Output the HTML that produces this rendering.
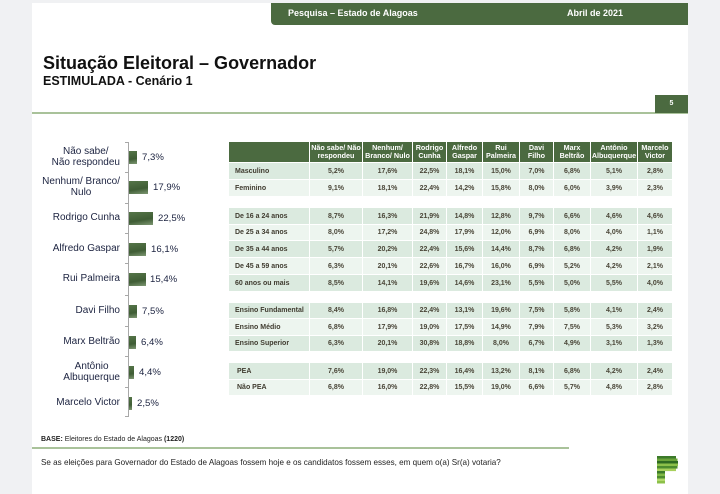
<!DOCTYPE html>
<html>
<head>
<meta charset="utf-8">
<style>
*{margin:0;padding:0;box-sizing:border-box;}
html,body{width:720px;height:494px;overflow:hidden;background:#f0f1f3;font-family:"Liberation Sans",Arial,sans-serif;}
#page{position:absolute;left:32px;top:3px;width:656px;height:491px;background:#fff;}
.abs{position:absolute;}
#hdr{left:271px;top:3px;width:417px;height:22px;background:#4b6a40;border-bottom-left-radius:4px;color:#fff;font-weight:bold;font-size:9px;}
#hdr span{position:absolute;top:5px;white-space:nowrap;}
#title{left:43px;top:53px;font-size:18px;font-weight:bold;color:#111;white-space:nowrap;line-height:20px;}
#sub{left:43px;top:74px;font-size:12.5px;font-weight:bold;color:#111;white-space:nowrap;line-height:14px;}
#gline{left:32px;top:112px;width:656px;height:2px;background:#a9c29a;}
#pg{left:655px;top:95px;width:33px;height:18px;background:#4b6a40;color:#fff;font-size:7px;font-weight:bold;text-align:center;line-height:18px;}
.lbl{position:absolute;right:600px;font-size:10px;color:#1c2340;line-height:11px;text-align:center;white-space:nowrap;}
.bar{position:absolute;left:129px;height:13px;background:linear-gradient(170deg,#557548 0%,#3f5d35 60%,#7e9873 100%);}
.val{position:absolute;font-size:9.6px;color:#1c2340;line-height:11px;white-space:nowrap;}
#axis{left:128px;top:142px;width:1px;height:275px;background:#a8a8a8;}
.tk{position:absolute;left:125px;width:3px;height:1px;background:#a8a8a8;}
.row{position:absolute;left:229px;width:443px;display:flex;border-bottom:1px solid #fff;}
.row span{display:flex;align-items:center;justify-content:center;border-right:1.5px solid #fff;font-size:7px;font-weight:bold;color:#4a4638;white-space:nowrap;height:100%;}
.row span:first-child{justify-content:flex-start;padding-left:6px;color:#403c30;}
.row span:last-child{border-right:none;}
.d{background:#dbeadf;}
.l{background:#edf5ef;}
.h{background:#4b6a40;}
.h span{color:#fff !important;font-weight:bold;font-size:7.2px;line-height:8.5px;text-align:center;}
.c1{width:81px}.c2{width:53px}.c3{width:50px}.c4{width:34px}.c5{width:36px}.c6{width:37px}.c7{width:34px}.c8{width:37px}.c9{width:47px}.c10{width:34px}
#base{left:41px;top:436px;font-size:7px;color:#222;white-space:nowrap;}
#bline{left:32px;top:447px;width:537px;height:2px;background:#a9c29a;}
#q{left:41px;top:458px;font-size:8.1px;color:#222;white-space:nowrap;}
</style>
</head>
<body>
<div id="page"></div>
<div id="hdr" class="abs"><span style="left:17px">Pesquisa – Estado de Alagoas</span><span style="left:296px">Abril de 2021</span></div>
<div id="title" class="abs">Situação Eleitoral – Governador</div>
<div id="sub" class="abs">ESTIMULADA - Cenário 1</div>
<div id="gline" class="abs"></div>
<div id="pg" class="abs">5</div>

<!-- Chart -->
<div id="axis" class="abs"></div>
<div class="tk" style="top:142px"></div>
<div class="tk" style="top:172px"></div>
<div class="tk" style="top:203px"></div>
<div class="tk" style="top:233px"></div>
<div class="tk" style="top:263px"></div>
<div class="tk" style="top:295px"></div>
<div class="tk" style="top:326px"></div>
<div class="tk" style="top:356px"></div>
<div class="tk" style="top:387px"></div>
<div class="tk" style="top:416px"></div>

<div class="lbl" style="top:146px">Não sabe/<br>Não respondeu</div>
<div class="bar" style="top:151px;width:7.8px"></div>
<div class="val" style="left:142px;top:152px">7,3%</div>

<div class="lbl" style="top:176px">Nenhum/ Branco/<br>Nulo</div>
<div class="bar" style="top:181px;width:19.2px"></div>
<div class="val" style="left:153px;top:182px">17,9%</div>

<div class="lbl" style="top:212px">Rodrigo Cunha</div>
<div class="bar" style="top:212px;width:24px"></div>
<div class="val" style="left:158px;top:213px">22,5%</div>

<div class="lbl" style="top:243px">Alfredo Gaspar</div>
<div class="bar" style="top:243px;width:17.2px"></div>
<div class="val" style="left:151px;top:244px">16,1%</div>

<div class="lbl" style="top:273px">Rui Palmeira</div>
<div class="bar" style="top:273px;width:16.5px"></div>
<div class="val" style="left:150px;top:274px">15,4%</div>

<div class="lbl" style="top:305px">Davi Filho</div>
<div class="bar" style="top:305px;width:8px"></div>
<div class="val" style="left:142px;top:306px">7,5%</div>

<div class="lbl" style="top:336px">Marx Beltrão</div>
<div class="bar" style="top:336px;width:6.8px"></div>
<div class="val" style="left:141px;top:337px">6,4%</div>

<div class="lbl" style="top:361px">Antônio<br>Albuquerque</div>
<div class="bar" style="top:366px;width:4.7px"></div>
<div class="val" style="left:139px;top:367px">4,4%</div>

<div class="lbl" style="top:397px">Marcelo Victor</div>
<div class="bar" style="top:397px;width:2.7px"></div>
<div class="val" style="left:137px;top:398px">2,5%</div>

<!-- Table -->
<div class="row h" style="top:142px;height:21px"><span class="c1"></span><span class="c2">Não sabe/ Não<br>respondeu</span><span class="c3">Nenhum/<br>Branco/ Nulo</span><span class="c4">Rodrigo<br>Cunha</span><span class="c5">Alfredo<br>Gaspar</span><span class="c6">Rui<br>Palmeira</span><span class="c7">Davi<br>Filho</span><span class="c8">Marx<br>Beltrão</span><span class="c9">Antônio<br>Albuquerque</span><span class="c10">Marcelo<br>Victor</span></div>

<div class="row d" style="top:163px;height:17px"><span class="c1">Masculino</span><span class="c2">5,2%</span><span class="c3">17,6%</span><span class="c4">22,5%</span><span class="c5">18,1%</span><span class="c6">15,0%</span><span class="c7">7,0%</span><span class="c8">6,8%</span><span class="c9">5,1%</span><span class="c10">2,8%</span></div>
<div class="row l" style="top:180px;height:17px"><span class="c1">Feminino</span><span class="c2">9,1%</span><span class="c3">18,1%</span><span class="c4">22,4%</span><span class="c5">14,2%</span><span class="c6">15,8%</span><span class="c7">8,0%</span><span class="c8">6,0%</span><span class="c9">3,9%</span><span class="c10">2,3%</span></div>

<div class="row d" style="top:208px;height:17px"><span class="c1">De 16 a 24 anos</span><span class="c2">8,7%</span><span class="c3">16,3%</span><span class="c4">21,9%</span><span class="c5">14,8%</span><span class="c6">12,8%</span><span class="c7">9,7%</span><span class="c8">6,6%</span><span class="c9">4,6%</span><span class="c10">4,6%</span></div>
<div class="row l" style="top:225px;height:16px"><span class="c1">De 25 a 34 anos</span><span class="c2">8,0%</span><span class="c3">17,2%</span><span class="c4">24,8%</span><span class="c5">17,9%</span><span class="c6">12,0%</span><span class="c7">6,9%</span><span class="c8">8,0%</span><span class="c9">4,0%</span><span class="c10">1,1%</span></div>
<div class="row d" style="top:241px;height:17px"><span class="c1">De 35 a 44 anos</span><span class="c2">5,7%</span><span class="c3">20,2%</span><span class="c4">22,4%</span><span class="c5">15,6%</span><span class="c6">14,4%</span><span class="c7">8,7%</span><span class="c8">6,8%</span><span class="c9">4,2%</span><span class="c10">1,9%</span></div>
<div class="row l" style="top:258px;height:17px"><span class="c1">De 45 a 59 anos</span><span class="c2">6,3%</span><span class="c3">20,1%</span><span class="c4">22,6%</span><span class="c5">16,7%</span><span class="c6">16,0%</span><span class="c7">6,9%</span><span class="c8">5,2%</span><span class="c9">4,2%</span><span class="c10">2,1%</span></div>
<div class="row d" style="top:275px;height:17px"><span class="c1">60 anos ou mais</span><span class="c2">8,5%</span><span class="c3">14,1%</span><span class="c4">19,6%</span><span class="c5">14,6%</span><span class="c6">23,1%</span><span class="c7">5,5%</span><span class="c8">5,0%</span><span class="c9">5,5%</span><span class="c10">4,0%</span></div>

<div class="row d" style="top:303px;height:16px"><span class="c1">Ensino Fundamental</span><span class="c2">8,4%</span><span class="c3">16,8%</span><span class="c4">22,4%</span><span class="c5">13,1%</span><span class="c6">19,6%</span><span class="c7">7,5%</span><span class="c8">5,8%</span><span class="c9">4,1%</span><span class="c10">2,4%</span></div>
<div class="row l" style="top:319px;height:17px"><span class="c1">Ensino Médio</span><span class="c2">6,8%</span><span class="c3">17,9%</span><span class="c4">19,0%</span><span class="c5">17,5%</span><span class="c6">14,9%</span><span class="c7">7,9%</span><span class="c8">7,5%</span><span class="c9">5,3%</span><span class="c10">3,2%</span></div>
<div class="row d" style="top:336px;height:16px"><span class="c1">Ensino Superior</span><span class="c2">6,3%</span><span class="c3">20,1%</span><span class="c4">30,8%</span><span class="c5">18,8%</span><span class="c6">8,0%</span><span class="c7">6,7%</span><span class="c8">4,9%</span><span class="c9">3,1%</span><span class="c10">1,3%</span></div>

<div class="row d" style="top:363px;height:17px"><span class="c1" style="padding-left:8px">PEA</span><span class="c2">7,6%</span><span class="c3">19,0%</span><span class="c4">22,3%</span><span class="c5">16,4%</span><span class="c6">13,2%</span><span class="c7">8,1%</span><span class="c8">6,8%</span><span class="c9">4,2%</span><span class="c10">2,4%</span></div>
<div class="row l" style="top:380px;height:16px"><span class="c1" style="padding-left:8px">Não PEA</span><span class="c2">6,8%</span><span class="c3">16,0%</span><span class="c4">22,8%</span><span class="c5">15,5%</span><span class="c6">19,0%</span><span class="c7">6,6%</span><span class="c8">5,7%</span><span class="c9">4,8%</span><span class="c10">2,8%</span></div>

<!-- Footer -->
<div id="base" class="abs"><b>BASE:</b> Eleitores do Estado de Alagoas <b>(1220)</b></div>
<div id="bline" class="abs"></div>
<div id="q" class="abs">Se as eleições para Governador do Estado de Alagoas fossem hoje e os candidatos fossem esses, em quem o(a) Sr(a) votaria?</div>

<svg class="abs" style="left:0;top:0" width="720" height="494" viewBox="0 0 720 494">
<rect x="657" y="456" width="19" height="2.6" fill="#3c7a2a"/>
<rect x="657" y="458.5" width="20.5" height="2.6" fill="#6aa33a"/>
<rect x="657" y="461" width="21" height="2.6" fill="#2f6b22"/>
<rect x="657" y="463.5" width="21" height="2.6" fill="#8cc04a"/>
<rect x="657" y="466" width="20.5" height="2.6" fill="#4d8c2e"/>
<rect x="657" y="468.5" width="19" height="2.6" fill="#a8d05c"/>
<rect x="657" y="471" width="8" height="2.6" fill="#3c7a2a"/>
<rect x="657" y="473.5" width="8" height="2.6" fill="#7fb845"/>
<rect x="657" y="476" width="8" height="2.6" fill="#4d8c2e"/>
<rect x="657" y="478.5" width="8" height="2.6" fill="#b0d86a"/>
<rect x="657" y="481" width="8" height="2.5" fill="#8cc04a"/>
</svg>
</body>
</html>
